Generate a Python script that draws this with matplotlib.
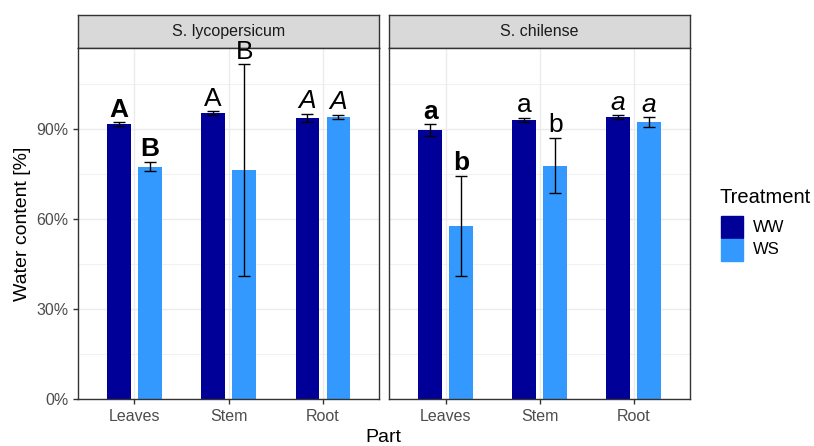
import matplotlib
matplotlib.use("Agg")
import matplotlib.pyplot as plt
import numpy as np
from matplotlib.ticker import FuncFormatter
from matplotlib.patches import Rectangle

plt.rcParams['font.family'] = ['Liberation Sans', 'DejaVu Sans']

species = ["S. lycopersicum", "S. chilense"]
parts = ["Leaves", "Stem", "Root"]
treatments = ["WW", "WS"]
colors = {"WW": "#000099", "WS": "#3399FF"}

# mean water content [%] per species, treatment, part
means = {
    "S. lycopersicum": {"WW": [91.7, 95.4, 93.8], "WS": [77.6, 76.4, 94.1]},
    "S. chilense": {"WW": [89.8, 93.1, 94.1], "WS": [57.8, 77.9, 92.3]},
}
errs = {
    "S. lycopersicum": {"WW": [0.7, 0.6, 1.45], "WS": [1.5, 35.2, 0.7]},
    "S. chilense": {"WW": [1.9, 0.7, 0.6], "WS": [16.8, 9.3, 1.65]},
}
letters = {
    "S. lycopersicum": {"WW": ["A", "A", "A"], "WS": ["B", "B", "A"]},
    "S. chilense": {"WW": ["a", "a", "a"], "WS": ["b", "b", "a"]},
}
part_style = {"Leaves": ("bold", "normal"), "Stem": ("normal", "normal"), "Root": ("normal", "italic")}

W, H = 814, 446
fig = plt.figure(figsize=(W / 100, H / 100), dpi=100)

panels = [(78, 379.3), (389.3, 690)]
top_strip, panel_top, panel_bot = 15.3, 48.3, 399.3
ymax = 117.0

def fx(px):
    return px / W

def fy(py):
    return 1 - py / H

offsets = {"WW": -0.165, "WS": 0.165}
barw = 0.25

for i, sp in enumerate(species):
    x0, x1 = panels[i]
    # strip
    sax = fig.add_axes([fx(x0), fy(panel_top), fx(x1 - x0), (panel_top - top_strip) / H])
    sax.set_zorder(0)
    sax.set_xticks([]); sax.set_yticks([])
    sax.set_facecolor("#D9D9D9")
    for s in sax.spines.values():
        s.set_color("#333333")
        s.set_linewidth(1.0)
    sax.text(0.5, 0.5, sp, ha="center", va="center", fontsize=11.5, color="#1A1A1A",
             transform=sax.transAxes)

    ax = fig.add_axes([fx(x0), fy(panel_bot), fx(x1 - x0), (panel_bot - panel_top) / H])
    ax.set_zorder(2)
    ax.set_xlim(0.4, 3.6)
    ax.set_ylim(0, ymax)
    xs = np.arange(1, len(parts) + 1)
    for tr in treatments:
        pos = xs + offsets[tr]
        ax.bar(pos, means[sp][tr], width=barw, color=colors[tr], zorder=2,
               edgecolor="none", label=tr)
        ax.errorbar(pos, means[sp][tr], yerr=errs[sp][tr], fmt="none", ecolor="black",
                    elinewidth=1.0, capsize=4, capthick=1.0, zorder=3)
        for j, p in enumerate(parts):
            top = means[sp][tr][j] + errs[sp][tr][j]
            w, st = part_style[p]
            ax.annotate(letters[sp][tr][j], (pos[j], top), xytext=(0, 4),
                        textcoords="offset points", ha="center", va="baseline",
                        fontsize=19, fontweight=w, fontstyle=st, color="black", zorder=4,
                        annotation_clip=False, clip_on=False)
    ax.set_yticks([0, 30, 60, 90])
    ax.set_yticks([15, 45, 75, 105], minor=True)
    ax.yaxis.set_major_formatter(FuncFormatter(lambda v, p: f"{int(v)}%"))
    ax.set_xticks(xs)
    ax.set_xticklabels(parts)
    ax.grid(True, which="major", color="#EBEBEB", lw=1.0, zorder=0)
    ax.grid(True, which="minor", axis="y", color="#EBEBEB", lw=0.5, zorder=0)
    ax.set_axisbelow(True)
    for s in ax.spines.values():
        s.set_color("#333333")
        s.set_linewidth(1.0)
    ax.tick_params(axis="both", which="major", colors="#333333", labelcolor="#4D4D4D",
                   labelsize=11.5, length=3.5, width=1.0)
    ax.tick_params(axis="both", which="minor", length=0)
    if i > 0:
        ax.tick_params(axis="y", which="both", left=False, labelleft=False)
    else:
        ax.set_ylabel("Water content [%]", fontsize=14, color="black", labelpad=4)

fig.text(fx(383), fy(437), "Part", ha="center", va="center", fontsize=14)

# legend
fig.text(fx(720), fy(197), "Treatment", ha="left", va="center", fontsize=14.5)
for k, tr in enumerate(treatments):
    ytop = 216 + k * 23
    fig.patches.append(Rectangle((fx(720.5), fy(ytop + 22)), fx(22), 22 / H,
                                 transform=fig.transFigure, color=colors[tr]))
    fig.text(fx(753), fy(ytop + 11), tr, ha="left", va="center", fontsize=12, color="black")

fig.savefig("out.png", dpi=100)
